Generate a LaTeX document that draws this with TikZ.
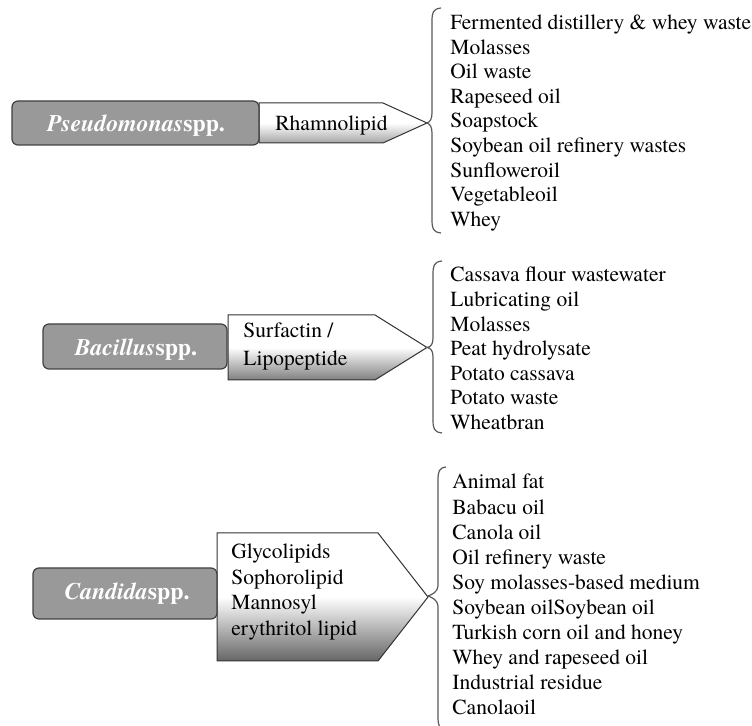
\documentclass[tikz,border=0pt]{standalone}
\usepackage{fontspec}
\IfFontExistsTF{texgyretermes-regular.otf}{%
  \setmainfont{texgyretermes}[Extension=.otf, UprightFont=*-regular, BoldFont=*-bold, ItalicFont=*-italic, BoldItalicFont=*-bolditalic]}{%
  \setmainfont{Liberation Serif}}
\begin{document}
\begin{tikzpicture}[x=0.5pt,y=-0.5pt,
 itemtext/.style={anchor=base west,inner sep=0pt,font=\fontsize{10.75}{12}\selectfont},
 species/.style={anchor=base,inner sep=0pt,text=white,font=\fontsize{11.9}{13}\selectfont\bfseries},
 spbox/.style={draw=black!75,fill=black!40,rounded corners=3pt,line width=0.6pt},
 prodarrow/.style={draw=black!80,line width=0.5pt,top color=white,bottom color=#1,middle color=white},
 bracestyle/.style={draw=black!65,line width=0.6pt}]
\useasboundingbox (0,0) rectangle (752,726);
\clip (0,0) rectangle (752,726);

% ---------- Pseudomonas ----------
\path[prodarrow=black!35] (259,103) -- (383,103) -- (427,123) -- (383,143) -- (259,143) -- cycle;
\node[spbox,minimum width=123.5pt,minimum height=22pt,inner sep=0pt] (pbox) at (135.5,123) {};
\node[species] (pname) at (136,131.5) {\itshape Pseudomonas\upshape spp.};
\node[itemtext] (prod1) at (275,130.5) {Rhamnolipid};
\coordinate (ptip) at (427,123);
\draw[bracestyle] (441,8) .. controls (433,9) and (432,12) .. (432,22) -- (432,113) .. controls (432,119) and (430,122) .. (ptip) .. controls (430,124) and (432,127) .. (432,133) -- (432,219) .. controls (432,229) and (433,232) .. (441,233);
\foreach \t [count=\i] in {Fermented distillery \& whey waste, Molasses, Oil waste, Rapeseed oil, Soapstock, Soybean oil refinery wastes, Sunfloweroil, Vegetableoil, Whey}
  \node[itemtext] (pa\i) at (450,{29.5+(\i-1)*24.6}) {\t};

% ---------- Bacillus ----------
\path[prodarrow=black!50] (228,315) -- (375,315) -- (427,347.5) -- (375,380) -- (228,380) -- cycle;
\node[spbox,minimum width=92pt,minimum height=22.5pt,inner sep=0pt] (bbox) at (135,346.5) {};
\node[species] (bname) at (136,356) {\itshape Bacillus\upshape spp.};
\node[itemtext] (prod2a) at (243,338) {Surfactin /};
\node[itemtext] (prod2b) at (243,366) {Lipopeptide};
\coordinate (btip) at (427,347.5);
\draw[bracestyle] (442,261) .. controls (434,262) and (433,265) .. (433,275) -- (433,338) .. controls (433,344) and (431,347) .. (btip) .. controls (431,348) and (433,351) .. (433,357) -- (433,419) .. controls (433,429) and (434,432) .. (442,433);
\foreach \t [count=\i] in {Cassava flour wastewater, Lubricating oil, Molasses, Peat hydrolysate, Potato cassava, Potato waste, Wheatbran}
  \node[itemtext] (ba\i) at (450,{282+(\i-1)*24.6}) {\t};

% ---------- Candida ----------
\path[prodarrow=black!60] (217,533) -- (378,533) -- (428,597) -- (378,661) -- (217,661) -- cycle;
\node[spbox,minimum width=92pt,minimum height=25.5pt,inner sep=0pt] (cbox) at (125,593.5) {};
\node[species] (cname) at (127,600) {\itshape Candida\upshape spp.};
\node[itemtext] (prod3a) at (231,559) {Glycolipids};
\node[itemtext] (prod3b) at (231,584.5) {Sophorolipid};
\node[itemtext] (prod3c) at (231,610) {Mannosyl};
\node[itemtext] (prod3d) at (231,635.5) {erythritol lipid};
\coordinate (ctip) at (428,596);
\draw[bracestyle] (446,467) .. controls (439,468) and (438,471) .. (438,481) -- (438,586) .. controls (438,592) and (431,595) .. (ctip) .. controls (431,597) and (438,600) .. (438,606) -- (438,716) .. controls (438,726) and (439,729) .. (446,730);
\foreach \t [count=\i] in {Animal fat, Babacu oil, Canola oil, Oil refinery waste, Soy molasses-based medium, Soybean oilSoybean oil, Turkish corn oil and honey, Whey and rapeseed oil, Industrial residue, Canolaoil}
  \node[itemtext] (ca\i) at (452,{489+(\i-1)*25.1}) {\t};
\end{tikzpicture}
\end{document}
